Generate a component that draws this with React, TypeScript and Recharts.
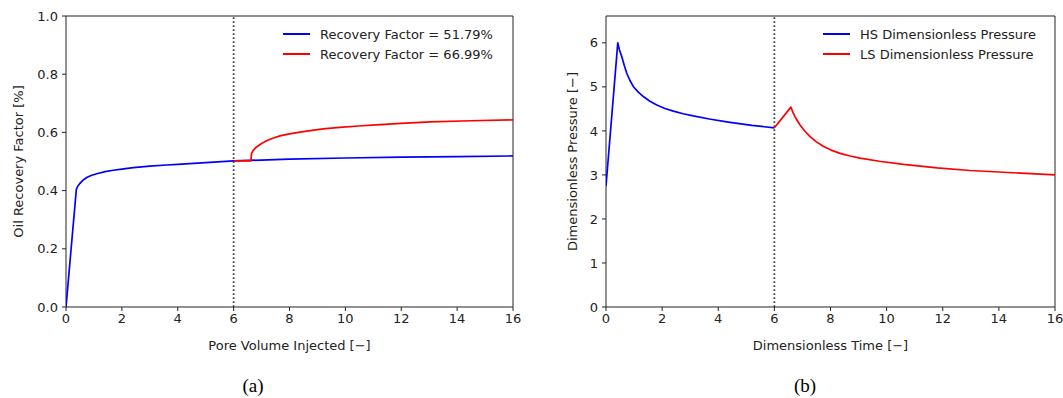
import React from 'react';
import { LineChart, Line, XAxis, YAxis, ReferenceLine, ReferenceArea, Legend } from 'recharts';

// ---- Data ----
const xTicks = [0, 2, 4, 6, 8, 10, 12, 14, 16];
const leftYTicks = [0, 0.2, 0.4, 0.6, 0.8, 1.0];
const rightYTicks = [0, 1, 2, 3, 4, 5, 6];

// (a) Oil recovery factor vs pore volume injected
const hsRecoveryX = [0, 0.37, 0.42, 0.5, 0.6, 0.74, 0.9, 1.1, 1.4, 1.69, 2.0, 2.41, 3.0, 3.6, 4.0, 5.0, 6.0, 8.0, 10.0, 12.0, 14.0, 16.0];
const hsRecoveryY = [0, 0.404, 0.415, 0.425, 0.435, 0.445, 0.452, 0.458, 0.465, 0.470, 0.474, 0.479, 0.484, 0.488, 0.490, 0.496, 0.502, 0.508, 0.512, 0.515, 0.517, 0.519];
const lsRecoveryX = [6.0, 6.62, 6.64, 6.7, 6.82, 7.0, 7.18, 7.4, 7.66, 8.0, 8.38, 8.8, 9.21, 9.8, 10.46, 11.24, 12.0, 13.03, 14.5, 16.0];
const lsRecoveryY = [0.502, 0.502, 0.527, 0.538, 0.550, 0.562, 0.571, 0.580, 0.588, 0.595, 0.601, 0.607, 0.612, 0.617, 0.622, 0.627, 0.631, 0.636, 0.640, 0.643];

// (b) Dimensionless pressure vs dimensionless time
const hsPressureX = [0, 0.42, 0.48, 0.56, 0.65, 0.74, 0.85, 0.97, 1.15, 1.33, 1.55, 1.81, 2.1, 2.4, 2.75, 3.11, 3.68, 4.36, 5.2, 6.0];
const hsPressureY = [2.75, 6.0, 5.84, 5.69, 5.49, 5.31, 5.15, 5.01, 4.88, 4.78, 4.68, 4.59, 4.51, 4.45, 4.39, 4.34, 4.27, 4.20, 4.125, 4.07];
const lsPressureX = [6.0, 6.59, 6.66, 6.74, 6.82, 6.91, 7.05, 7.27, 7.5, 7.74, 8.0, 8.34, 8.7, 9.05, 9.74, 10.6, 11.8, 12.97, 14.5, 16.0];
const lsPressureY = [4.07, 4.54, 4.42, 4.32, 4.23, 4.14, 4.02, 3.87, 3.75, 3.65, 3.57, 3.49, 3.43, 3.38, 3.31, 3.24, 3.16, 3.10, 3.05, 3.00];

const leftLegendLabels = ['Recovery Factor = 51.79%', 'Recovery Factor = 66.99%'];
const rightLegendLabels = ['HS Dimensionless Pressure', 'LS Dimensionless Pressure'];
const seriesColors = ['#0000ff', '#ff0000'];

const zip = (xs: number[], ys: number[]) => xs.map((x, i) => ({ x, y: ys[i] }));

const hsRecovery = zip(hsRecoveryX, hsRecoveryY);
const lsRecovery = zip(lsRecoveryX, lsRecoveryY);
const hsPressure = zip(hsPressureX, hsPressureY);
const lsPressure = zip(lsPressureX, lsPressureY);

const FONT = '"DejaVu Sans", sans-serif';
const FS = 13;
const TXT = '#222';

const tickStyle = { fontFamily: FONT, fontSize: FS, fill: TXT };

const makeLegend = (labels: string[]) => () => (
  <div style={{ fontFamily: FONT, fontSize: FS, color: TXT }}>
    {labels.map((l, i) => (
      <div key={l} style={{ display: 'flex', alignItems: 'center', height: 20, whiteSpace: 'nowrap' }}>
        <span style={{ display: 'inline-block', width: 27, height: 2, background: seriesColors[i], marginRight: 10 }} />
        <span>{l}</span>
      </div>
    ))}
  </div>
);

interface PanelProps {
  left: number;
  width: number;
  rightMargin: number;
  yDomain: [number, number];
  yTicks: number[];
  yFmt: (v: number) => string;
  series: { x: number; y: number }[][];
  names: string[];
  xLabel: string;
  yLabel: string;
  yLabelOffset: number;
  legendLeft: number;
}

const Panel = (p: PanelProps) => (
  <div style={{ position: 'absolute', left: p.left, top: 0 }}>
    <LineChart width={p.width} height={360} margin={{ top: 16, right: p.rightMargin, bottom: 0, left: 0 }}>
      <XAxis
        type="number"
        dataKey="x"
        domain={[0, 16]}
        ticks={xTicks}
        allowDataOverflow
        height={53}
        tickSize={4}
        tickMargin={3}
        tick={tickStyle}
        stroke="#222"
        axisLine={false}
        label={{ value: p.xLabel, position: 'insideBottom', offset: 10, style: { fontFamily: FONT, fontSize: FS, fill: TXT } }}
      />
      <YAxis
        type="number"
        dataKey="y"
        domain={p.yDomain}
        ticks={p.yTicks}
        allowDataOverflow
        width={66}
        tickSize={4}
        tickMargin={4}
        tick={tickStyle}
        tickFormatter={p.yFmt}
        stroke="#222"
        axisLine={false}
        label={{ value: p.yLabel, angle: -90, position: 'insideLeft', offset: p.yLabelOffset, style: { fontFamily: FONT, fontSize: FS, fill: TXT, textAnchor: 'middle' } }}
      />
      <ReferenceLine x={6} stroke="#444" strokeWidth={1.8} strokeDasharray="1.8 2.2" ifOverflow="extendDomain" />
      {p.series.map((d, i) => (
        <Line
          key={p.names[i]}
          data={d}
          dataKey="y"
          name={p.names[i]}
          type="linear"
          stroke={seriesColors[i]}
          strokeWidth={1.7}
          strokeLinejoin="round"
          dot={false}
          activeDot={false}
          isAnimationActive={false}
        />
      ))}
      <ReferenceArea x1={0} x2={16} y1={p.yDomain[0]} y2={p.yDomain[1]} fill="none" fillOpacity={0} stroke="#222" strokeWidth={1} />
      <Legend
        layout="vertical"
        align="center"
        verticalAlign="middle"
        wrapperStyle={{ left: p.legendLeft, top: 24, width: 'auto' }}
        content={makeLegend(p.names)}
      />
    </LineChart>
  </div>
);

export default function App() {
  return (
    <div style={{ position: 'absolute', left: 0, top: 0, width: 1063, height: 398, background: '#fff', overflow: 'hidden' }}>
      <Panel
        left={0}
        width={530}
        rightMargin={17}
        yDomain={[0, 1]}
        yTicks={leftYTicks}
        yFmt={(v) => v.toFixed(1)}
        series={[hsRecovery, lsRecovery]}
        names={leftLegendLabels}
        xLabel="Pore Volume Injected [−]"
        yLabel="Oil Recovery Factor [%]"
        yLabelOffset={18}
        legendLeft={283}
      />
      <Panel
        left={540}
        width={523}
        rightMargin={8}
        yDomain={[0, 6.61]}
        yTicks={rightYTicks}
        yFmt={(v) => String(v)}
        series={[hsPressure, lsPressure]}
        names={rightLegendLabels}
        xLabel="Dimensionless Time [−]"
        yLabel="Dimensionless Pressure [−]"
        yLabelOffset={32}
        legendLeft={283}
      />
      <div style={{ position: 'absolute', left: 203, width: 100, top: 376, textAlign: 'center', fontFamily: '"Liberation Serif", serif', fontSize: 19, lineHeight: 1, color: '#000' }}>(a)</div>
      <div style={{ position: 'absolute', left: 755, width: 100, top: 376, textAlign: 'center', fontFamily: '"Liberation Serif", serif', fontSize: 19, lineHeight: 1, color: '#000' }}>(b)</div>
    </div>
  );
}
